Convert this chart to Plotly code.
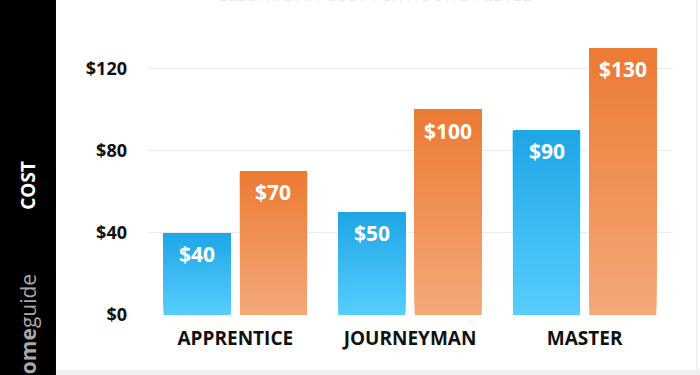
import plotly.graph_objects as go

categories = ["APPRENTICE", "JOURNEYMAN", "MASTER"]
low_rates = [40, 50, 90]
high_rates = [70, 100, 130]
tick_vals = [0, 40, 80, 120]
tick_text = ["$0", "$40", "$80", "$120"]

BLUE_TOP, BLUE_BOT = (0x1E, 0xA5, 0xE6), (0x57, 0xCE, 0xFD)
ORNG_TOP, ORNG_BOT = (0xEC, 0x7A, 0x33), (0xF3, 0xA9, 0x79)
N_SEG = 40
FONT = "Open Sans"


def mix(bot, top, t):
    return "rgb(%d,%d,%d)" % tuple(round(b + (u - b) * t) for b, u in zip(bot, top))


fig = go.Figure()
# gradient: overlapping layers, each from a fraction of the value up to the full value
for name, vals, bot, top in [("low", low_rates, BLUE_BOT, BLUE_TOP),
                             ("high", high_rates, ORNG_BOT, ORNG_TOP)]:
    for i in range(N_SEG):
        t = (i + 0.5) / N_SEG
        fig.add_trace(go.Bar(
            x=categories,
            y=[v * (N_SEG - i) / N_SEG for v in vals],
            base=[v * i / N_SEG for v in vals],
            offsetgroup=name,
            marker=dict(color=mix(bot, top, t), line=dict(width=0)),
            hoverinfo="skip",
            showlegend=False,
        ))

annotations = []
for vals, shift in [(low_rates, -38), (high_rates, 38)]:
    for c, v in zip(categories, vals):
        annotations.append(dict(
            x=c, y=v, xref="x", yref="y", xshift=shift, yshift=-21,
            text="$%d" % v, showarrow=False, yanchor="middle",
            font=dict(family=FONT, size=21, color="white", weight="bold"),
        ))

# side strip labels
annotations.append(dict(x=-0.229, y=0.47, xref="paper", yref="paper",
                        xanchor="center", yanchor="middle",
                        text="<b>COST</b>", textangle=-90, showarrow=False,
                        font=dict(family=FONT, size=19, color="white")))
annotations.append(dict(x=-0.229, y=-0.058, xref="paper", yref="paper",
                        xanchor="center", yanchor="middle",
                        text="<b>home</b>guide", textangle=-90, showarrow=False,
                        font=dict(family=FONT, size=21, color="#a8a8a8")))
annotations.append(dict(x=0.433, y=1.118, xref="paper", yref="paper",
                        text="ELECTRICIAN COST PER HOUR BY LEVEL", showarrow=False,
                        yanchor="bottom",
                        font=dict(family=FONT, size=17, color="#e8e8e8")))

shapes = [
    dict(type="rect", xref="paper", yref="paper", x0=-0.30, x1=-0.1756,
         y0=-0.3, y1=1.2, fillcolor="black", line=dict(width=0), layer="below"),
    dict(type="rect", xref="paper", yref="paper", x0=-0.1756, x1=1.2,
         y0=-0.3, y1=-0.2, fillcolor="#f0f0f0", line=dict(width=0), layer="below"),
    dict(type="line", xref="paper", yref="paper", x0=1.0477, x1=1.0477,
         y0=-0.2, y1=1.2, line=dict(color="#ececec", width=1.5), layer="below"),
]

fig.update_layout(
    width=700, height=375,
    margin=dict(l=148, r=28, t=40, b=60),
    paper_bgcolor="white", plot_bgcolor="white",
    barmode="group", bargap=0.126, bargroupgap=0.122,
    annotations=annotations, shapes=shapes,
    xaxis=dict(showgrid=False, showline=False, zeroline=False,
               ticklabelstandoff=10,
               tickfont=dict(family=FONT, size=19, color="#111", weight="bold")),
    yaxis=dict(range=[0, 134], tickvals=tick_vals, ticktext=tick_text,
               showgrid=True, gridcolor="#ebebeb", gridwidth=1,
               zeroline=False, showline=False, ticklabelstandoff=20,
               tickfont=dict(family=FONT, size=18, color="#111", weight="bold")),
)

fig.write_html("out.html", config={"displayModeBar": False},
               post_script="document.body.style.margin='0';")
